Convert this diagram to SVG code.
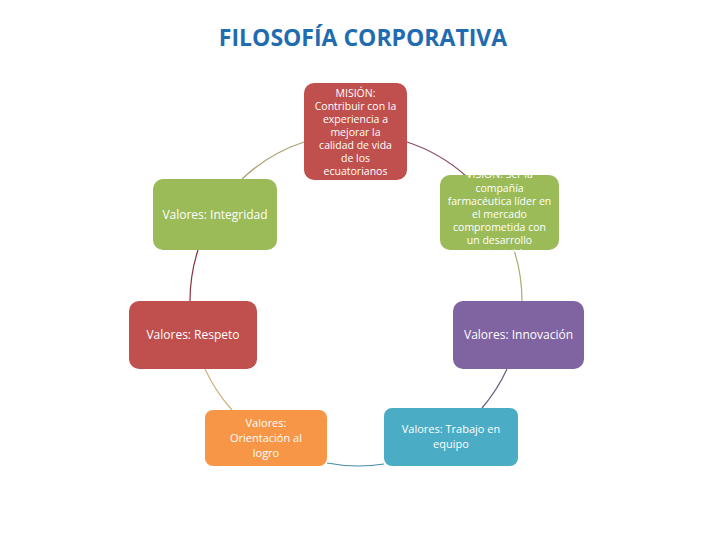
<svg xmlns="http://www.w3.org/2000/svg" width="720" height="540" viewBox="0 0 720 540">
<style>
.t{font-family:"Open Sans","Liberation Sans",sans-serif;fill:#fff;text-anchor:middle}
.s{font-size:10.5px}
.m{font-size:12px}
.n{font-size:11px}
.c{fill:none;stroke-width:1.2}
</style>
<defs>
<clipPath id="vc"><rect x="430" y="168" width="140" height="84"/></clipPath>
</defs>
<rect width="720" height="540" fill="#fff"/>
<text x="363" y="46" font-family="'Open Sans','Liberation Sans',sans-serif" font-weight="bold" font-size="23" fill="#1f6cb0" text-anchor="middle">FILOSOFÍA CORPORATIVA</text>
<g id="connectors">
<path class="c" stroke="#a9a070" d="M242,179 A166,166 0 0 1 304,142"/>
<path class="c" stroke="#8a4a5a" d="M407,142 A166,166 0 0 1 466,176"/>
<path class="c" stroke="#a0b070" d="M514,250 A166,166 0 0 1 522,301"/>
<path class="c" stroke="#6a5a80" d="M507,369 A166,166 0 0 1 482,408"/>
<path class="c" stroke="#4a8aaa" d="M384,464 A166,166 0 0 1 327,463"/>
<path class="c" stroke="#d0b080" d="M232,410 A166,166 0 0 1 205,369"/>
<path class="c" stroke="#8a3040" d="M190,301 A166,166 0 0 1 198,250"/>
</g>
<g id="mision">
<rect x="304" y="83" width="103" height="97" rx="10" fill="#c0504d"/>
<text class="t s"><tspan x="355.5" y="97">MISIÓN:</tspan><tspan x="355.5" y="110">Contribuir con la</tspan><tspan x="355.5" y="123">experiencia a</tspan><tspan x="355.5" y="136">mejorar la</tspan><tspan x="355.5" y="149">calidad de vida</tspan><tspan x="355.5" y="162">de los</tspan><tspan x="355.5" y="175">ecuatorianos</tspan></text>
</g>
<g id="vision">
<rect x="440" y="175" width="119" height="75" rx="10" fill="#9bbb59"/>
<text class="t s" clip-path="url(#vc)"><tspan x="499.5" y="177.5">VISIÓN: Ser la</tspan><tspan x="499.5" y="191.5">compañía</tspan><tspan x="499.5" y="204.5">farmacéutica líder en</tspan><tspan x="499.5" y="217.5">el mercado</tspan><tspan x="499.5" y="230.5">comprometida con</tspan><tspan x="499.5" y="243.5">un desarrollo</tspan><tspan x="499.5" y="256.5">sustentable</tspan></text>
</g>
<g id="integridad">
<rect x="153" y="179" width="124" height="71" rx="10" fill="#9bbb59"/>
<text class="t m" x="215" y="219">Valores: Integridad</text>
</g>
<g id="respeto">
<rect x="129" y="301" width="128" height="68" rx="10" fill="#c0504d"/>
<text class="t m" x="193" y="339">Valores: Respeto</text>
</g>
<g id="innovacion">
<rect x="453" y="301" width="131" height="68" rx="10" fill="#8064a2"/>
<text class="t m" x="518.5" y="339">Valores: Innovación</text>
</g>
<g id="orientacion">
<rect x="205" y="410" width="122" height="56" rx="8" fill="#f79646"/>
<text class="t n"><tspan x="266" y="427">Valores:</tspan><tspan x="266" y="442">Orientación al</tspan><tspan x="266" y="457">logro</tspan></text>
</g>
<g id="trabajo">
<rect x="384" y="408" width="134" height="58" rx="8" fill="#4bacc6"/>
<text class="t n"><tspan x="451" y="433">Valores: Trabajo en</tspan><tspan x="451" y="448">equipo</tspan></text>
</g>
</svg>
